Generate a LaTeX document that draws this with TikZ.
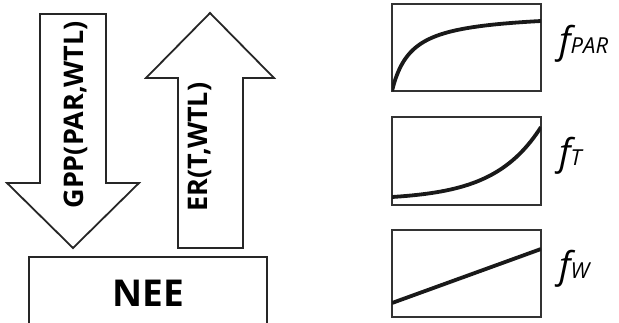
\documentclass[tikz,border=0pt]{standalone}
\usepackage{fontspec}
\setmainfont{Open Sans}
\begin{document}
\begin{tikzpicture}[x=1pt,y=-1pt,
  bigarrow/.style={draw=black!85,line width=1.8pt,fill=white,line join=miter},
  frame/.style={draw=black!80,line width=1.2pt},
  curve/.style={line width=3.8pt,black!90},
  arrowtext/.style={font=\fontsize{27}{27}\selectfont\bfseries,rotate=90,inner sep=0pt},
  flabel/.style={anchor=base west,inner sep=0pt}]
\useasboundingbox (0,0) rectangle (619,322);
% GPP arrow (down)
\draw[bigarrow] (40,14) -- (106,14) -- (106,183) -- (139,183) -- (73,248) -- (7,183) -- (40,183) -- cycle;
\node[arrowtext] (gpp) at (76,115) {GPP(PAR,WTL)};
% ER arrow (up)
\draw[bigarrow] (178,248) -- (243,248) -- (243,78) -- (274,78) -- (210,13) -- (146,78) -- (178,78) -- cycle;
\node[arrowtext] (er) at (200,147) {ER(T,WTL)};
% NEE box
\draw[bigarrow,fill=none] (29,323) -- (29,257) -- (267,257) -- (267,323);
\node[font=\fontsize{37}{37}\selectfont\bfseries,inner sep=0pt] (nee) at (148,293) {NEE};
% panels
\draw[frame] (392,4) rectangle (541,91);
\draw[frame] (392,117) rectangle (541,205);
\draw[frame] (392,230) rectangle (541,317);
\begin{scope}
\clip (392,4) rectangle (541,91);
\draw[curve] plot[domain=0:1,samples=80,smooth] ({392+149*\x},{91-70*\x*1.13/(0.13+\x)});
\end{scope}
\begin{scope}
\clip (392,117) rectangle (541,205);
\draw[curve] plot[domain=0:1,samples=60,smooth] ({392+149*\x},{197-70*(exp(3.2*\x)-1)/(exp(3.2)-1)});
\end{scope}
\begin{scope}
\clip (392,230) rectangle (541,317);
\draw[curve] (392,303) -- (541,249);
\end{scope}
% labels
\node[flabel] (fpar) at (559,53) {\fontsize{37}{37}\selectfont\itshape f{\fontsize{22}{22}\selectfont PAR}};
\node[flabel] (ft) at (559,165) {\fontsize{37}{37}\selectfont\itshape f{\fontsize{22}{22}\selectfont T}};
\node[flabel] (fw) at (559,278) {\fontsize{37}{37}\selectfont\itshape f{\fontsize{22}{22}\selectfont W}};
\end{tikzpicture}
\end{document}
